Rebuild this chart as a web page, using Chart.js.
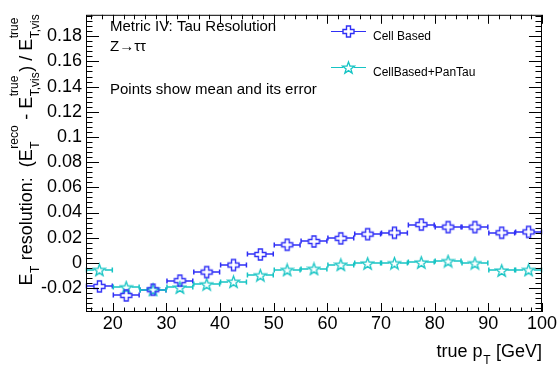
<!DOCTYPE html>
<html>
<head>
<meta charset="utf-8">
<title>Metric IV: Tau Resolution</title>
<script src="https://cdn.jsdelivr.net/npm/chart.js@4.4.1/dist/chart.umd.min.js"></script>
<style>
  html, body { margin: 0; padding: 0; background: #fff; }
  #wrap { width: 558px; height: 370px; }
</style>
</head>
<body>
<div id="wrap"><canvas id="resChart" width="558" height="370"></canvas></div>
<script>
// ── data ──────────────────────────────────────────
const binCenters = [17.5, 22.5, 27.5, 32.5, 37.5, 42.5, 47.5, 52.5, 57.5,
                    62.5, 67.5, 72.5, 77.5, 82.5, 87.5, 92.5, 97.5];
const binHalfWidth = 2.5;
const cellBased = [-0.0187, -0.0258, -0.0213, -0.0141, -0.0073, -0.0017, 0.0067, 0.0144, 0.0170,
                   0.0195, 0.0228, 0.0239, 0.0304, 0.0284, 0.0284, 0.0239, 0.0246];
const cellBasedPanTau = [-0.0055, -0.0193, -0.0213, -0.0195, -0.0170, -0.0149, -0.0098, -0.0055, -0.0047,
                         -0.0014, -0.0004, -0.0002, 0.0004, 0.0014, -0.0002, -0.0060, -0.0055];
const seriesNames = ['Cell Based', 'CellBased+PanTau'];
const xTicks = [20, 30, 40, 50, 60, 70, 80, 90, 100];
const yTicks = [-0.02, 0, 0.02, 0.04, 0.06, 0.08, 0.1, 0.12, 0.14, 0.16, 0.18];
const infoLines = ['Metric IV: Tau Resolution', 'Z\u2192\u03c4\u03c4', 'Points show mean and its error'];

const FONT = '"Liberation Sans", Arial, Helvetica, sans-serif';
const BLUE = '#2f2ff6';
const CYAN = '#16c4c4';

// ── marker images (open cross / open star) ────────
function makeCross(color) {
    const c = document.createElement('canvas');
    c.width = 15; c.height = 15;
    const g = c.getContext('2d');
    const h = 5.5, a = 2.0, o = 7.5;
    const pts = [[-a,-h],[a,-h],[a,-a],[h,-a],[h,a],[a,a],[a,h],[-a,h],[-a,a],[-h,a],[-h,-a],[-a,-a]];
    g.beginPath();
    pts.forEach((p, i) => i ? g.lineTo(o + p[0], o + p[1]) : g.moveTo(o + p[0], o + p[1]));
    g.closePath();
    g.strokeStyle = color;
    g.lineWidth = 1.4;
    g.stroke();
    return c;
}

function makeStar(color) {
    const c = document.createElement('canvas');
    c.width = 15; c.height = 15;
    const g = c.getContext('2d');
    const R = 6.2, r = 2.5, o = 7.5;
    g.beginPath();
    for (let i = 0; i < 10; i++) {
        const ang = -Math.PI / 2 + i * Math.PI / 5;
        const rad = i % 2 ? r : R;
        const px = o + rad * Math.cos(ang), py = o + 0.6 + rad * Math.sin(ang);
        i ? g.lineTo(px, py) : g.moveTo(px, py);
    }
    g.closePath();
    g.strokeStyle = color;
    g.lineWidth = 1.3;
    g.stroke();
    return c;
}

const crossImg = makeCross(BLUE);
const starImg = makeStar(CYAN);

function toPoints(values) {
    return binCenters.map((x, i) => ({ x: x, y: values[i], xErr: binHalfWidth }));
}

// ── text with sub/superscripts ────────────────────
function richWidth(ctx, parts, size) {
    let w = 0;
    parts.forEach(p => {
        if (p.t) {
            ctx.font = size + 'px ' + FONT;
            w += ctx.measureText(p.t).width;
        } else {
            ctx.font = Math.round(size * 0.68) + 'px ' + FONT;
            w += Math.max(p.sub ? ctx.measureText(p.sub).width : 0,
                          p.sup ? ctx.measureText(p.sup).width : 0) + 1;
        }
    });
    return w;
}

function drawRich(ctx, parts, x, y, size) {
    parts.forEach(p => {
        if (p.t) {
            ctx.font = size + 'px ' + FONT;
            ctx.fillText(p.t, x, y);
            x += ctx.measureText(p.t).width;
        } else {
            ctx.font = Math.round(size * 0.68) + 'px ' + FONT;
            let w = 0;
            if (p.sup) { ctx.fillText(p.sup, x + 0.5, y - 14); w = ctx.measureText(p.sup).width; }
            if (p.sub) { ctx.fillText(p.sub, x + 0.5, y + 7); w = Math.max(w, ctx.measureText(p.sub).width); }
            x += w + 1;
        }
    });
}

const yTitle = [
    { t: 'E' }, { sub: 'T' }, { t: ' resolution:  (E' }, { sup: 'reco', sub: 'T' },
    { t: ' - E' }, { sup: 'true', sub: 'T,vis' }, { t: ') / E' }, { sup: 'true', sub: 'T,vis' }
];
const xTitle = [{ t: 'true p' }, { sub: 'T' }, { t: ' [GeV]' }];

// ── horizontal error bars, gap round the marker ───
const errorBars = {
    id: 'errorBars',
    beforeDatasetsDraw(chart) {
        const { ctx, scales: { x, y } } = chart;
        chart.data.datasets.forEach(ds => {
            ctx.save();
            ctx.strokeStyle = ds.borderColor;
            ctx.lineWidth = 1.5;
            ds.data.forEach(p => {
                const px = x.getPixelForValue(p.x);
                const py = Math.round(y.getPixelForValue(p.y));
                const lo = x.getPixelForValue(p.x - p.xErr);
                const hi = x.getPixelForValue(p.x + p.xErr);
                ctx.beginPath();
                ctx.moveTo(lo, py); ctx.lineTo(px - 5.5, py);
                ctx.moveTo(px + 5.5, py); ctx.lineTo(hi, py);
                ctx.moveTo(lo + 0.5, py - 2.5); ctx.lineTo(lo + 0.5, py + 2.5);
                ctx.moveTo(hi - 0.5, py - 2.5); ctx.lineTo(hi - 0.5, py + 2.5);
                ctx.stroke();
            });
            ctx.restore();
        });
    }
};

// ── frame with inward ticks on all four sides ─────
const frame = {
    id: 'frame',
    afterDatasetsDraw(chart) {
        const { ctx, chartArea: a, scales: { x, y } } = chart;
        ctx.save();
        ctx.strokeStyle = '#000';
        ctx.lineWidth = 1;
        ctx.strokeRect(a.left + 0.5, a.top + 0.5, a.right - a.left - 1, a.bottom - a.top - 1);
        ctx.beginPath();
        for (let v = 16; v <= 100; v += 2) {
            const px = Math.round(x.getPixelForValue(v)) + 0.5;
            const len = v % 10 === 0 ? 9 : 4.5;
            ctx.moveTo(px, a.bottom); ctx.lineTo(px, a.bottom - len);
            ctx.moveTo(px, a.top); ctx.lineTo(px, a.top + len);
        }
        for (let k = -9; k <= 49; k++) {
            const py = Math.round(y.getPixelForValue(k * 0.004)) + 0.5;
            const len = k % 5 === 0 ? 13 : 6.5;
            ctx.moveTo(a.left, py); ctx.lineTo(a.left + len, py);
            ctx.moveTo(a.right, py); ctx.lineTo(a.right - len, py);
        }
        ctx.stroke();
        ctx.restore();
    }
};

// ── titles, info text and legend ──────────────────
const texts = {
    id: 'texts',
    afterDraw(chart) {
        const { ctx, chartArea: a } = chart;
        ctx.save();
        ctx.fillStyle = '#000';
        ctx.textBaseline = 'alphabetic';
        ctx.textAlign = 'left';

        // y title, rotated, ends at the top of the axis
        const wy = richWidth(ctx, yTitle, 18);
        ctx.save();
        ctx.translate(32, a.top - 1 + wy);
        ctx.rotate(-Math.PI / 2);
        drawRich(ctx, yTitle, 0, 0, 18);
        ctx.restore();

        // x title, right aligned to the axis end
        const wx = richWidth(ctx, xTitle, 18);
        drawRich(ctx, xTitle, a.right - wx, 357, 18);

        // info text
        ctx.font = '15px ' + FONT;
        ctx.fillText(infoLines[0], 110, 30.5);
        ctx.fillText(infoLines[1], 110, 50.5);
        ctx.fillText(infoLines[2], 110, 94);

        // legend
        const rows = [31.5, 67.5];
        chart.data.datasets.forEach((ds, i) => {
            const yy = rows[i];
            ctx.strokeStyle = ds.borderColor;
            ctx.lineWidth = 1.2;
            ctx.beginPath();
            ctx.moveTo(331, yy); ctx.lineTo(343, yy);
            ctx.moveTo(354, yy); ctx.lineTo(366, yy);
            ctx.stroke();
            const img = ds.pointStyle;
            ctx.drawImage(img, 348.5 - img.width / 2, yy - img.height / 2);
            ctx.fillStyle = '#000';
            ctx.font = '12px ' + FONT;
            ctx.fillText(ds.label, 373, yy + 8.5);
        });
        ctx.restore();
    }
};

new Chart(document.getElementById('resChart'), {
    type: 'scatter',
    data: {
        datasets: [
            {
                label: seriesNames[0],
                data: toPoints(cellBased),
                borderColor: BLUE,
                backgroundColor: BLUE,
                pointStyle: crossImg,
                pointRadius: 6,
                showLine: false,
            },
            {
                label: seriesNames[1],
                data: toPoints(cellBasedPanTau),
                borderColor: CYAN,
                backgroundColor: CYAN,
                pointStyle: starImg,
                pointRadius: 6,
                showLine: false,
            },
        ],
    },
    options: {
        responsive: false,
        animation: false,
        layout: { padding: { top: 3, right: 16, left: 0, bottom: 0 } },
        plugins: {
            legend: { display: false },
            tooltip: { enabled: false },
        },
        scales: {
            x: {
                type: 'linear',
                min: 15,
                max: 100,
                afterBuildTicks: s => { s.ticks = xTicks.map(v => ({ value: v })); },
                afterFit: s => { s.height = 58; },
                grid: { display: false, drawTicks: false },
                border: { display: false },
                ticks: {
                    color: '#000',
                    font: { family: FONT, size: 18 },
                    padding: 1,
                    maxRotation: 0,
                    autoSkip: false,
                },
            },
            y: {
                type: 'linear',
                min: -0.039,
                max: 0.197,
                afterBuildTicks: s => { s.ticks = yTicks.map(v => ({ value: v })); },
                afterFit: s => { s.width = 86; },
                grid: { display: false, drawTicks: false },
                border: { display: false },
                ticks: {
                    color: '#000',
                    font: { family: FONT, size: 18 },
                    padding: 4,
                    autoSkip: false,
                    callback: v => String(+Number(v).toFixed(2)),
                },
            },
        },
    },
    plugins: [errorBars, frame, texts],
});
</script>
</body>
</html>
